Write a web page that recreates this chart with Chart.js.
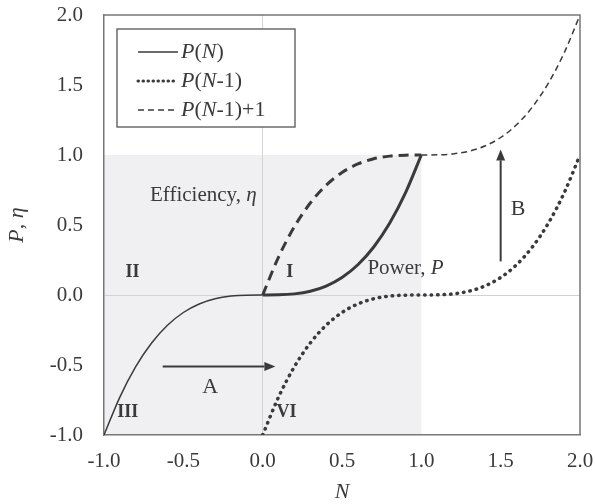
<!DOCTYPE html>
<html>
<head>
<meta charset="utf-8">
<script src="https://cdn.jsdelivr.net/npm/chart.js@4.4.1/dist/chart.umd.min.js"></script>
<style>
  body { margin: 0; background: #fff; }
  #wrap { width: 595px; height: 504px; }
</style>
</head>
<body>
<div id="wrap"><canvas id="propChart"></canvas></div>
<script>
// values
var nNeg      = [-1.0, -0.9, -0.8, -0.7, -0.6, -0.5, -0.4, -0.3, -0.2, -0.1, 0.0];
var powerNeg  = [-1.0, -0.729, -0.512, -0.343, -0.216, -0.125, -0.064, -0.027, -0.008, -0.001, 0.0];
var nPos      = [0.0, 0.1, 0.2, 0.3, 0.4, 0.5, 0.6, 0.7, 0.8, 0.9, 1.0];
var powerPos  = [0.0, 0.001, 0.008, 0.027, 0.064, 0.125, 0.216, 0.343, 0.512, 0.729, 1.0];
var effPos    = [0.0, 0.271, 0.488, 0.657, 0.784, 0.875, 0.936, 0.973, 0.992, 0.999, 1.0];
var nShift    = [0.0, 0.1, 0.2, 0.3, 0.4, 0.5, 0.6, 0.7, 0.8, 0.9, 1.0, 1.1, 1.2, 1.3, 1.4, 1.5, 1.6, 1.7, 1.8, 1.9, 2.0];
var powerShift = [-1.0, -0.729, -0.512, -0.343, -0.216, -0.125, -0.064, -0.027, -0.008, -0.001, 0.0,
                  0.001, 0.008, 0.027, 0.064, 0.125, 0.216, 0.343, 0.512, 0.729, 1.0];
var nHigh     = [1.0, 1.1, 1.2, 1.3, 1.4, 1.5, 1.6, 1.7, 1.8, 1.9, 2.0];
var shiftPlusOne = [1.0, 1.001, 1.008, 1.027, 1.064, 1.125, 1.216, 1.343, 1.512, 1.729, 2.0];
var tickVals  = [-1.0, -0.5, 0.0, 0.5, 1.0, 1.5, 2.0];

var SERIF = '"Liberation Serif", "Times New Roman", serif';
var INK = '#3a3a3a';

function pts(xs, ys) {
    return xs.map(function (x, i) { return { x: x, y: ys[i] }; });
}

function lineSet(xs, ys, width, dash) {
    return {
        data: pts(xs, ys),
        showLine: true,
        borderColor: INK,
        borderWidth: width,
        borderDash: dash,
        borderCapStyle: dash.length && dash[0] < 1 ? 'round' : 'butt',
        pointRadius: 0,
        cubicInterpolationMode: 'monotone',
        fill: false
    };
}

// draws mixed roman / italic pieces one after another
function drawRich(ctx, parts, x, y, size) {
    parts.forEach(function (p) {
        ctx.font = (p[1] ? 'italic ' : '') + size + 'px ' + SERIF;
        ctx.fillText(p[0], x, y);
        x += ctx.measureText(p[0]).width;
    });
}

function arrow(ctx, x1, y1, x2, y2) {
    var ang = Math.atan2(y2 - y1, x2 - x1);
    var len = 11, half = 4.5;
    ctx.beginPath();
    ctx.moveTo(x1, y1);
    ctx.lineTo(x2 - Math.cos(ang) * len, y2 - Math.sin(ang) * len);
    ctx.lineWidth = 2;
    ctx.strokeStyle = INK;
    ctx.stroke();
    ctx.beginPath();
    ctx.moveTo(x2, y2);
    ctx.lineTo(x2 - Math.cos(ang) * len - Math.sin(ang) * half, y2 - Math.sin(ang) * len + Math.cos(ang) * half);
    ctx.lineTo(x2 - Math.cos(ang) * len + Math.sin(ang) * half, y2 - Math.sin(ang) * len - Math.cos(ang) * half);
    ctx.closePath();
    ctx.fillStyle = INK;
    ctx.fill();
}

var decorPlugin = {
    id: 'decor',
    beforeDraw: function (chart) {
        var ctx = chart.ctx, xs = chart.scales.x, ys = chart.scales.y;
        ctx.save();
        ctx.fillStyle = '#ffffff';
        ctx.fillRect(0, 0, chart.width, chart.height);
        // shaded operating region
        var l = xs.getPixelForValue(-1), r = xs.getPixelForValue(1);
        var t = ys.getPixelForValue(1), b = ys.getPixelForValue(-1);
        ctx.fillStyle = '#f0f0f3';
        ctx.fillRect(l, t, r - l, b - t);
        ctx.restore();
    },
    afterDraw: function (chart) {
        var ctx = chart.ctx, xs = chart.scales.x, ys = chart.scales.y, a = chart.chartArea;
        var X = function (v) { return xs.getPixelForValue(v); };
        var Y = function (v) { return ys.getPixelForValue(v); };
        ctx.save();

        // top and right frame
        ctx.strokeStyle = '#777';
        ctx.lineWidth = 1.5;
        ctx.beginPath();
        ctx.moveTo(a.left, a.top);
        ctx.lineTo(a.right, a.top);
        ctx.lineTo(a.right, a.bottom);
        ctx.stroke();

        // axis titles
        ctx.fillStyle = INK;
        ctx.textBaseline = 'middle';
        ctx.textAlign = 'center';
        ctx.font = 'italic 22px ' + SERIF;
        ctx.fillText('N', (a.left + a.right) / 2, 492);
        ctx.save();
        ctx.translate(17, (a.top + a.bottom) / 2);
        ctx.rotate(-Math.PI / 2);
        ctx.textAlign = 'left';
        var w = 0;
        ctx.font = 'italic 22px ' + SERIF; w += ctx.measureText('P').width;
        ctx.font = '22px ' + SERIF; w += ctx.measureText(', ').width;
        ctx.font = 'italic 22px ' + SERIF; w += ctx.measureText('η').width;
        drawRich(ctx, [['P', true], [', ', false], ['η', true]], -w / 2, 0, 22);
        ctx.restore();

        // region numerals
        ctx.textAlign = 'center';
        ctx.font = 'bold 18px ' + SERIF;
        ctx.fillText('II', X(-0.82), Y(0.16));
        ctx.fillText('I', X(0.17), Y(0.16));
        ctx.fillText('III', X(-0.85), Y(-0.84));
        ctx.fillText('VI', X(0.15), Y(-0.84));

        // curve labels
        ctx.textAlign = 'left';
        drawRich(ctx, [['Efficiency, ', false], ['η', true]], X(-0.71), Y(0.71), 21);
        drawRich(ctx, [['Power, ', false], ['P', true]], X(0.66), Y(0.19), 21);
        ctx.textAlign = 'center';
        ctx.font = '22px ' + SERIF;
        ctx.fillText('A', X(-0.33), Y(-0.66));
        ctx.fillText('B', X(1.61), Y(0.61));

        // shift arrows
        arrow(ctx, X(-0.63), Y(-0.51), X(0.08), Y(-0.51));
        arrow(ctx, X(1.5), Y(0.24), X(1.5), Y(1.04));

        // legend
        var bx = 117, by = 29, bw = 178, bh = 98;
        ctx.fillStyle = '#ffffff';
        ctx.fillRect(bx, by, bw, bh);
        ctx.strokeStyle = '#555';
        ctx.lineWidth = 1.3;
        ctx.setLineDash([]);
        ctx.strokeRect(bx, by, bw, bh);
        var rows = [
            { y: 52, w: 1.5, dash: [], cap: 'butt', parts: [['P', true], ['(', false], ['N', true], [')', false]] },
            { y: 81, w: 3, dash: [0.5, 4.5], cap: 'round', parts: [['P', true], ['(', false], ['N', true], ['-1)', false]] },
            { y: 110, w: 1.5, dash: [6, 4], cap: 'butt', parts: [['P', true], ['(', false], ['N', true], ['-1)+1', false]] }
        ];
        rows.forEach(function (row) {
            ctx.beginPath();
            ctx.setLineDash(row.dash);
            ctx.lineCap = row.cap;
            ctx.lineWidth = row.w;
            ctx.strokeStyle = INK;
            ctx.moveTo(138, row.y);
            ctx.lineTo(178, row.y);
            ctx.stroke();
            ctx.setLineDash([]);
            ctx.fillStyle = INK;
            ctx.textAlign = 'left';
            drawRich(ctx, row.parts, 181, row.y, 22);
        });
        ctx.restore();
    }
};

var tickFont = { family: SERIF, size: 21 };

new Chart(document.getElementById('propChart'), {
    type: 'scatter',
    data: {
        datasets: [
            lineSet(nNeg, powerNeg, 1.5, []),
            lineSet(nPos, powerPos, 3, []),
            lineSet(nPos, effPos, 3, [10, 6]),
            lineSet(nHigh, shiftPlusOne, 1.5, [6, 4]),
            lineSet(nShift, powerShift, 3.5, [0.5, 6])
        ]
    },
    options: {
        responsive: true,
        maintainAspectRatio: false,
        animation: false,
        layout: { padding: { top: 15, right: 15, left: 0, bottom: 0 } },
        plugins: {
            legend: { display: false },
            tooltip: { enabled: false }
        },
        scales: {
            x: {
                type: 'linear',
                min: -1, max: 2,
                afterBuildTicks: function (s) { s.ticks = tickVals.map(function (v) { return { value: v }; }); },
                afterFit: function (s) { s.height = 69; s.paddingLeft = 0; s.paddingRight = 0; },
                ticks: {
                    padding: 14,
                    color: INK,
                    font: tickFont,
                    maxRotation: 0,
                    callback: function (v) { return Number(v).toFixed(1); }
                },
                grid: {
                    drawTicks: false,
                    color: function (c) { return c.tick && c.tick.value === 0 ? '#d2d2d2' : 'rgba(0,0,0,0)'; }
                },
                border: { display: true, color: '#777', width: 1.5 }
            },
            y: {
                type: 'linear',
                min: -1, max: 2,
                afterBuildTicks: function (s) { s.ticks = tickVals.map(function (v) { return { value: v }; }); },
                afterFit: function (s) { s.width = 104; s.paddingTop = 0; s.paddingBottom = 0; },
                ticks: {
                    padding: 21,
                    color: INK,
                    font: tickFont,
                    callback: function (v) { return Number(v).toFixed(1); }
                },
                grid: {
                    drawTicks: false,
                    color: function (c) { return c.tick && c.tick.value === 0 ? '#d2d2d2' : 'rgba(0,0,0,0)'; }
                },
                border: { display: true, color: '#777', width: 1.5 }
            }
        }
    },
    plugins: [decorPlugin]
});
</script>
</body>
</html>
